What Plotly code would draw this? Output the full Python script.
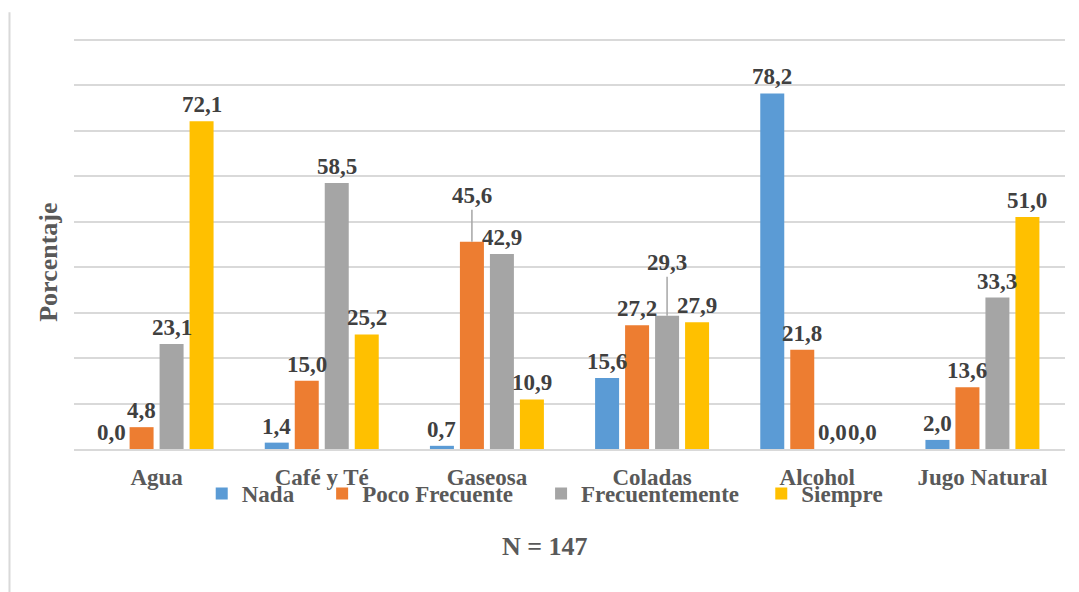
import plotly.graph_objects as go

# Beverage consumption frequency (%), N = 147
categories = ["Agua", "Café y Té", "Gaseosa", "Coladas", "Alcohol", "Jugo Natural"]
series_names = ["Nada", "Poco Frecuente", "Frecuentemente", "Siempre"]
nada = [0.0, 1.4, 0.7, 15.6, 78.2, 2.0]
poco_frecuente = [4.8, 15.0, 45.6, 27.2, 21.8, 13.6]
frecuentemente = [23.1, 58.5, 42.9, 29.3, 0.0, 33.3]
siempre = [72.1, 25.2, 10.9, 27.9, 0.0, 51.0]
colors = ["#5B9BD5", "#ED7D31", "#A5A5A5", "#FFC000"]

series = [nada, poco_frecuente, frecuentemente, siempre]

FONT = "Liberation Serif, Times New Roman, serif"
LABEL_COLOR = "#404040"
AXIS_COLOR = "#595959"
GRID_COLOR = "#D9D9D9"

BARGAP = 0.2736
BARGROUPGAP = 0.2
slot = (1 - BARGAP) / len(series)

xpos = list(range(len(categories)))

# extra trailing space after each legend entry name
legend_pad = [4, 4, 3, 0]


def b(s):
    return f"<b>{s}</b>"


fig = go.Figure()
for name, vals, col, pad in zip(series_names, series, colors, legend_pad):
    fig.add_trace(go.Bar(
        x=xpos, y=vals, name=b(name) + "&nbsp;" * pad,
        marker=dict(color=col, line=dict(width=0)),
    ))

# value labels; two of them are lifted with a leader line
lifted = {(2, 1): -46, (3, 2): -53}
annotations = []
for k, vals in enumerate(series):
    for i, v in enumerate(vals):
        xc = i + (k - (len(series) - 1) / 2) * slot
        txt = b(f"{v:.1f}".replace(".", ","))
        if (i, k) in lifted:
            annotations.append(dict(
                x=xc, y=v, xref="x", yref="y", text=txt,
                showarrow=True, arrowhead=0, arrowwidth=1.5,
                arrowcolor="#A6A6A6", ax=0, ay=lifted[(i, k)],
                font=dict(family=FONT, size=23, color=LABEL_COLOR),
            ))
        else:
            annotations.append(dict(
                x=xc, y=v, xref="x", yref="y", text=txt,
                showarrow=False, yanchor="bottom", yshift=2,
                font=dict(family=FONT, size=23, color=LABEL_COLOR),
            ))

annotations.append(dict(
    x=0, y=0.452, xref="paper", yref="paper", xanchor="center", yanchor="middle",
    xshift=-25, text=b("Porcentaje"), textangle=-90, showarrow=False,
    font=dict(family=FONT, size=26, color=AXIS_COLOR),
))
annotations.append(dict(
    x=0.475, y=-0.237, xref="paper", yref="paper", xanchor="center", yanchor="middle",
    text=b("N = 147"), showarrow=False,
    font=dict(family=FONT, size=26, color=AXIS_COLOR),
))

fig.update_layout(
    width=1079, height=592,
    margin=dict(l=74, r=14, t=37, b=143),
    paper_bgcolor="white", plot_bgcolor="white",
    barmode="group", bargap=BARGAP, bargroupgap=BARGROUPGAP,
    font=dict(family=FONT, size=23, color=AXIS_COLOR),
    showlegend=True,
    legend=dict(
        orientation="h", x=0.475, xanchor="center", y=-0.108, yanchor="middle",
        font=dict(family=FONT, size=23, color=AXIS_COLOR),
        bgcolor="rgba(0,0,0,0)", itemclick=False,
    ),
    annotations=annotations,
    shapes=[dict(
        type="line", xref="paper", yref="paper",
        x0=-0.0651, x1=-0.0651, y0=1.06, y1=-0.40,
        line=dict(color=GRID_COLOR, width=2),
    )],
)
fig.update_xaxes(
    tickmode="array", tickvals=xpos, ticktext=[b(c) for c in categories],
    range=[-0.5, len(categories) - 0.5],
    showgrid=False, showline=True, linecolor=GRID_COLOR, linewidth=2,
    ticks="outside", ticklen=6, tickcolor="rgba(0,0,0,0)",
    tickfont=dict(family=FONT, size=23, color=AXIS_COLOR),
    fixedrange=True,
)
fig.update_yaxes(
    range=[0, 90.6], tickvals=[10 * j for j in range(1, 10)], showticklabels=False,
    showgrid=True, gridcolor=GRID_COLOR, gridwidth=2,
    zeroline=False, fixedrange=True,
)

fig.write_html("out.html")
